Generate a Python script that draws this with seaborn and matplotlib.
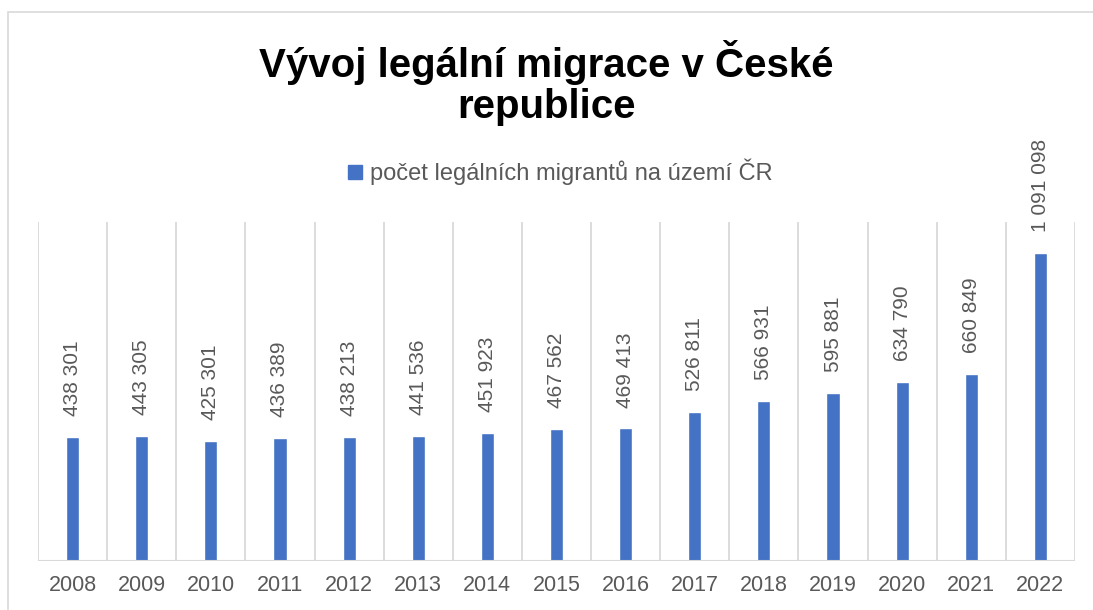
import matplotlib
matplotlib.use("Agg")
import matplotlib.pyplot as plt
import seaborn as sns
import pandas as pd
from matplotlib.patches import Rectangle
from matplotlib.lines import Line2D

years = ["2008", "2009", "2010", "2011", "2012", "2013", "2014", "2015",
         "2016", "2017", "2018", "2019", "2020", "2021", "2022"]
values = [438301, 443305, 425301, 436389, 438213, 441536, 451923, 467562,
          469413, 526811, 566931, 595881, 634790, 660849, 1091098]
series_name = "počet legálních migrantů na území ČR"
title = "Vývoj legální migrace v České\nrepublice"

sns.set_theme(style="white")
plt.rcParams['font.family'] = ['Liberation Sans', 'DejaVu Sans']

df = pd.DataFrame({"year": years, "value": values})

fig = plt.figure(figsize=(10.93, 6.10), dpi=100)
fig.patch.set_facecolor("white")
fig.patches.append(Rectangle((8/1093, -0.1), 1.2, 1.1 - 12/610, transform=fig.transFigure,
                             fill=False, edgecolor="#D9D9D9", linewidth=1.2))

ax = fig.add_axes([38/1093, 1 - 561/610, (1075 - 38)/1093, (561 - 222)/610])
sns.barplot(data=df, x="year", y="value", color="#4472C4", width=0.19,
            saturation=1, ax=ax)

ax.set_ylim(0, 1200000)
ax.set_xlim(-0.5, len(years) - 0.5)
for xb in range(len(years) + 1):
    ax.axvline(xb - 0.5, color="#D9D9D9", linewidth=1.3, zorder=0)
for s in ax.spines.values():
    s.set_visible(False)
ax.axhline(0, color="#D9D9D9", linewidth=1.5, zorder=1)
ax.set_yticks([])
ax.set_xlabel("")
ax.set_ylabel("")
ax.tick_params(axis="x", length=0, pad=10, labelsize=15.5, labelcolor="#595959")

labels = [f"{v:,}".replace(",", " ") for v in values]
ax.bar_label(ax.containers[0], labels=labels, rotation=90, padding=15,
             fontsize=15, color="#595959")

fig.text(0.5, 1 - 83/610, title, ha="center", va="center", fontsize=29,
         fontweight="bold", color="black", linespacing=1.12)

handle = Line2D([], [], marker="s", linestyle="none", markersize=10.5,
                markerfacecolor="#4472C4", markeredgecolor="#4472C4")
fig.legend([handle], [series_name], loc="center", bbox_to_anchor=(0.512, 1 - 172/610),
           frameon=False, fontsize=17, handlelength=0.7, handletextpad=0.25,
           labelcolor="#595959")

fig.savefig("out.png", dpi=100)
